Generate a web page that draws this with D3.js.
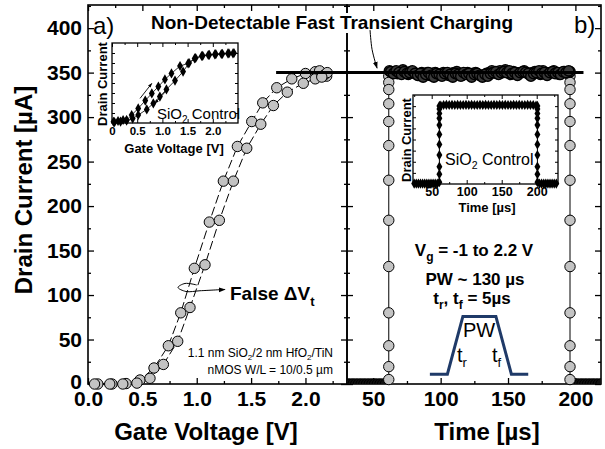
<!DOCTYPE html>
<html><head><meta charset="utf-8">
<script src="https://cdn.jsdelivr.net/npm/d3@7"></script>
<style>
body{margin:0;background:#fff;}
svg{display:block;}
</style></head><body>
<svg id="chart" width="605" height="449"></svg>
<script>
// ---------------- DATA ----------------
// Panel a) : ID-VG double sweep (gate voltage [V], drain current [uA])
const sweepUpV   = [0.09,0.22,0.35,0.478,0.607,0.739,0.853,0.978,1.116,1.245,1.374,1.506,1.607,1.736,1.874,2.00,2.09,2.165];
const sweepUpI   = [0,0,0.5,4.5,18,43,80,130,182,228,267,295,316,333,343,349,351,349];
const sweepDownV = [0.06,0.20,0.32,0.45,0.57,0.693,0.825,0.938,1.076,1.208,1.337,1.46,1.589,1.705,1.833,1.98,2.09,2.195];
const sweepDownI = [0,0,0,1,6.4,22,48,86,134,184,228,265,292,313,328,338,343,346];
const clusterV   = [2.13,2.17,2.20,2.15];
const clusterI   = [352,347,350,345];
const xTicksV    = [0,0.5,1.0,1.5,2.0];
const xMinorV    = [0.25,0.75,1.25,1.75,2.25];
const yTicks     = [0,50,100,150,200,250,300,350,400];
const yMinor     = [25,75,125,175,225,275,325,375,425];

// Panel b) : transient (time [us], drain current [uA])
const edgeI      = [346,339,331,315,295,268,229,184,132,80,43,19.5,5];
const riseT      = 61.5;
const fallT      = 196;
const plateauT   = [62,64,66,68,70,72,74,76,78,80,82,84,86,88,90,92,94,96,98,100,102,104,106,108,110,112,114,116,118,120,122,124,126,128,130,132,134,136,138,140,142,144,146,148,150,152,154,156,158,160,162,164,166,168,170,172,174,176,178,180,182,184,186,188,190,192,194,196];
const plateauI   = [352,350,351,349,350,353,350,348,351,350,
                    349,347,350,348,350,347,349,350,348,347,
                    350,349,347,349,350,351,348,347,349,350,
                    347,349,350,348,347,346,349,350,352,350,
                    349,352,350,353,350,348,351,350,349,350,
                    352,350,348,350,351,350,348,352,350,349,
                    350,352,350,348,350,351,350,351];
const plateau2T  = [63,65,67,69,71,73,75,77,79,81,83,85,87,89,91,93,95,97,99,101,103,105,107,109,111,113,115,117,119,121,123,125,127,129,131,133,135,137,139,141,143,145,147,149,151,153,155,157,159,161,163,165,167,169,171,173,175,177,179,181,183,185,187,189,191,193,195];
const plateau2I  = [351,349,352,350,348,351,349,350,352,349,
                    347,349,345,348,350,347,345,349,348,346,
                    349,350,348,345,349,348,346,350,348,349,
                    345,348,349,347,345,348,346,349,350,351,
                    348,350,351,350,352,349,350,347,350,351,
                    350,349,346,349,350,352,349,350,347,350,
                    351,349,350,348,351,350,352];
const baseLeftT  = [31,33,35,37,39,41,43,45,47,49,51,53,55,57,59];
const baseRightT = [197,199,201,203,205,207,209,211,213,215,217,219];
const xTicksT    = [50,100,150,200];
const xMinorT    = [75,125,175];

// "Non-detectable" level line, drawn across both panels
const chargeLevel = 350;
const chargeLineV = [1.73, 2.382];
const chargeLineT = [30.5, 206];
// schematic gate pulse (time, current-axis units)
const pulseT = [92,105,116.5,141,152.5,165];
const pulseI = [11,11,76,76,11,11];

// Inset a) : SiO2 control ID-VG
const inUpV = [0.03,0.12,0.22,0.29,0.39,0.52,0.66,0.79,0.92,1.05,1.18,1.35,1.51,1.64,1.78,1.91,2.04,2.17,2.30,2.40];
const inUpI = [6,10,15,15,40,73,112,148,182,218,248,285,298,323,335,340,343,345,348,348];
const inDnV = [0.05,0.17,0.29,0.41,0.52,0.69,0.82,0.95,1.08,1.25,1.41,1.53,1.66,1.80,1.93,2.06,2.19,2.32,2.42];
const inDnI = [4,7,12,22,40,68,98,132,168,212,257,300,325,336,341,344,346,348,350];
const inTicksV = [0,0.5,1.0,1.5,2.0];
const inMinorV = [0.25,0.75,1.25,1.75,2.25];

// Inset b) : SiO2 control transient
const inRiseT = 61, inFallT = 201;
const inEdgeI = [8,44,78,130,178,223,265,295,317,337,351];
const inTopT  = [63,67,71,75,79,83,87,91,95,99,103,107,111,115,119,123,127,131,135,139,143,147,151,155,159,163,167,171,175,179,183,187,191,195,199];
const inTopI  = [352,355,356,355,356,355,356,355,355,356,355,356,355,355,356,355,356,355,355,356,355,356,355,356,355,355,356,355,356,355,355,356,355,355,352];
const inBaseLT = [25,28,31,34,37,40,43,46,49,52,55,58];
const inBaseRT = [204,207,210,213,216,219,222,225,228];
const inTicksT = [50,100,150,200];
const inMinorT = [25,75,125,175,225];

// ---------------- DRAWING ----------------
const FONT = "'Liberation Sans', Arial, Helvetica, sans-serif";
const svg = d3.select("#chart").style("font-family", FONT);

const yMain = d3.scaleLinear().domain([0,426]).range([384,5]);
const xV = d3.scaleLinear().domain([0,2.382]).range([88,347]);
const xT = d3.scaleLinear().domain([30.5,219]).range([347,601]);

const defs = svg.append("defs");
defs.append("marker").attr("id","ah").attr("viewBox","0 0 10 10").attr("refX",9).attr("refY",5)
  .attr("markerWidth",7).attr("markerHeight",7).attr("orient","auto-start-reverse")
  .append("path").attr("d","M0,1.5 L10,5 L0,8.5 Z").attr("fill","#000");
defs.append("marker").attr("id","ahs").attr("viewBox","0 0 10 10").attr("refX",9).attr("refY",5)
  .attr("markerWidth",5).attr("markerHeight",5).attr("orient","auto")
  .append("path").attr("d","M0,1.5 L10,5 L0,8.5 Z").attr("fill","#000");
defs.append("clipPath").attr("id","clipR").append("rect")
  .attr("x",347).attr("y",5).attr("width",254).attr("height",379);

function axis(parent, gen, scale, values, size, pos, opts={}) {
  const a = gen(scale).tickValues(values).tickSizeInner(size).tickSizeOuter(0)
    .tickPadding(opts.pad ?? 6).tickFormat(opts.fmt || (() => ""));
  const g = parent.append("g").attr("transform", pos).call(a);
  g.attr("font-family", null).attr("font-size", null);
  g.select(".domain").remove();
  g.selectAll(".tick line").attr("stroke","#000").attr("stroke-width", opts.sw || 1.3);
  g.selectAll(".tick text").attr("font-size", opts.fs || 21).attr("font-weight","bold")
    .attr("fill","#000").style("font-family", FONT);
  return g;
}
function frame(parent, x, y, sw) {
  const [x0,x1] = x.range(), [y0,y1] = y.range();
  parent.append("rect").attr("x",Math.min(x0,x1)).attr("y",Math.min(y0,y1))
    .attr("width",Math.abs(x1-x0)).attr("height",Math.abs(y1-y0))
    .attr("fill","none").attr("stroke","#000").attr("stroke-width",sw||1.6);
}
const fmtV = d => d===0 ? "0.0" : d3.format(".1f")(d);

// ---- panel a axes
const gA = svg.append("g");
axis(gA, d3.axisBottom, xV, xTicksV, -6, "translate(0,384)", {fmt: fmtV, pad: 7});
axis(gA, d3.axisBottom, xV, xMinorV, -3, "translate(0,384)");
axis(gA, d3.axisTop, xV, xTicksV, -6, "translate(0,5)");
axis(gA, d3.axisTop, xV, xMinorV, -3, "translate(0,5)");
axis(gA, d3.axisLeft, yMain, yTicks, -6, "translate(88,0)", {fmt: d3.format("d"), pad: 6})
  .selectAll(".tick text").filter(d=>d===0).attr("dy","0.2em");
axis(gA, d3.axisLeft, yMain, yMinor.filter(d=>d<426), -3, "translate(88,0)");
axis(gA, d3.axisRight, yMain, yTicks, -6, "translate(347,0)");
axis(gA, d3.axisRight, yMain, yMinor.filter(d=>d<426), -3, "translate(347,0)");
frame(gA, xV, yMain);

// ---- panel b axes
const gB = svg.append("g");
axis(gB, d3.axisBottom, xT, xTicksT, -6, "translate(0,384)", {fmt: d3.format("d"), pad: 7});
axis(gB, d3.axisBottom, xT, xMinorT, -3, "translate(0,384)");
axis(gB, d3.axisTop, xT, xTicksT, -6, "translate(0,5)");
axis(gB, d3.axisTop, xT, xMinorT, -3, "translate(0,5)");
axis(gB, d3.axisLeft, yMain, yTicks, -6, "translate(347,0)");
axis(gB, d3.axisLeft, yMain, yMinor.filter(d=>d<426), -3, "translate(347,0)");
axis(gB, d3.axisRight, yMain, yTicks, -6, "translate(601,0)");
axis(gB, d3.axisRight, yMain, yMinor.filter(d=>d<426), -3, "translate(601,0)");
frame(gB, xT, yMain);

// ---- panel a data
const upPts = sweepUpV.map((v,i)=>[v,sweepUpI[i]]);
const dnPts = sweepDownV.map((v,i)=>[v,sweepDownI[i]]);
const lineV = d3.line().x(d=>xV(d[0])).y(d=>yMain(d[1]));
[upPts, dnPts].forEach(p => svg.append("path").attr("d", lineV(p)).attr("fill","none")
  .attr("stroke","#000").attr("stroke-width",1).attr("stroke-dasharray","9,3.5"));
const clusterPts = clusterV.map((v,i)=>[v,clusterI[i]]);
svg.append("g").selectAll("circle").data(upPts.concat(dnPts, clusterPts)).join("circle")
  .attr("cx",d=>xV(d[0])).attr("cy",d=>yMain(d[1])).attr("r",5.2)
  .attr("fill","#c3c3c3").attr("stroke","#000").attr("stroke-width",1);

// ---- panel b data
const lineT = d3.line().x(d=>xT(d[0])).y(d=>yMain(d[1]));
const risePts = edgeI.map(v=>[riseT,v]);
const fallPts = edgeI.map(v=>[fallT,v]);
[risePts, fallPts].forEach(p => svg.append("path").attr("d", lineT(p)).attr("fill","none")
  .attr("stroke","#000").attr("stroke-width",1));
const gBase = svg.append("g").attr("clip-path","url(#clipR)");
gBase.selectAll("circle").data(baseLeftT.concat(baseRightT)).join("circle")
  .attr("cx",d=>xT(d)).attr("cy",yMain(0)).attr("r",5.2)
  .attr("fill","#111").attr("stroke","#000");
svg.append("g").selectAll("circle").data(risePts.concat(fallPts)).join("circle")
  .attr("cx",d=>xT(d[0])).attr("cy",d=>yMain(d[1])).attr("r",5.2)
  .attr("fill","#c3c3c3").attr("stroke","#000").attr("stroke-width",1);
const platPts = plateauT.map((t,i)=>[t,plateauI[i]]).concat(plateau2T.map((t,i)=>[t,plateau2I[i]]));
svg.append("g").selectAll("circle").data(platPts).join("circle")
  .attr("cx",d=>xT(d[0])).attr("cy",d=>yMain(d[1])).attr("r",5.2)
  .attr("fill","#3a3a3a").attr("stroke","#000").attr("stroke-width",1.4);

// charge level line
svg.append("line").attr("x1",xV(chargeLineV[0])).attr("x2",xV(chargeLineV[1]))
  .attr("y1",yMain(chargeLevel)).attr("y2",yMain(chargeLevel)).attr("stroke","#000").attr("stroke-width",3);
svg.append("line").attr("x1",xT(chargeLineT[0])).attr("x2",xT(chargeLineT[1]))
  .attr("y1",yMain(chargeLevel)).attr("y2",yMain(chargeLevel)).attr("stroke","#000").attr("stroke-width",3);

// pulse schematic
svg.append("path").attr("d", lineT(pulseT.map((t,i)=>[t,pulseI[i]]))).attr("fill","none")
  .attr("stroke","#1f3a68").attr("stroke-width",3).attr("stroke-linejoin","miter");

// ---- inset a
const xIn = d3.scaleLinear().domain([0,2.5]).range([112,238]);
const yIn = d3.scaleLinear().domain([0,400]).range([123,43]);
const gI = svg.append("g");
gI.append("rect").attr("x",112).attr("y",43).attr("width",126).attr("height",80).attr("fill","#fff");
axis(gI, d3.axisBottom, xIn, inTicksV, -4, "translate(0,123)", {fmt: d=>d===0?"0":d3.format(".1f")(d), pad: 4, fs: 11.5, sw:1});
axis(gI, d3.axisBottom, xIn, inMinorV, -2, "translate(0,123)", {sw:1});
axis(gI, d3.axisTop, xIn, inTicksV, -4, "translate(0,43)", {sw:1});
axis(gI, d3.axisTop, xIn, inMinorV, -2, "translate(0,43)", {sw:1});
axis(gI, d3.axisLeft, yIn, [50,100,150,200,250,300,350], -3, "translate(112,0)", {sw:1});
axis(gI, d3.axisRight, yIn, [50,100,150,200,250,300,350], -3, "translate(238,0)", {sw:1});
frame(gI, xIn, yIn, 1.3);
const lineIn = d3.line().x(d=>xIn(d[0])).y(d=>yIn(d[1]));
const iUp = inUpV.map((v,i)=>[v,inUpI[i]]), iDn = inDnV.map((v,i)=>[v,inDnI[i]]);
[iUp,iDn].forEach(p=>gI.append("path").attr("d",lineIn(p)).attr("fill","none").attr("stroke","#000").attr("stroke-width",0.8));
const diamond = d3.symbol(d3.symbolDiamond, 30);
gI.selectAll("path.mk").data(iUp.concat(iDn)).join("path").attr("class","mk")
  .attr("d",diamond).attr("transform",d=>`translate(${xIn(d[0])},${yIn(d[1])})`).attr("fill","#000");
// sweep direction arrows
gI.append("path").attr("d", lineIn([[0.556,123],[0.79,198]])).attr("stroke","#000").attr("stroke-width",0.9).attr("marker-end","url(#ahs)");
gI.append("path").attr("d", lineIn([[1.117,173],[0.85,98]])).attr("stroke","#000").attr("stroke-width",0.9).attr("marker-end","url(#ahs)");

// ---- inset b
const xIn2 = d3.scaleLinear().domain([23.3,230.4]).range([413,558]);
const yIn2 = d3.scaleLinear().domain([0,400]).range([184,95]);
const gI2 = svg.append("g");
gI2.append("rect").attr("x",413).attr("y",95).attr("width",145).attr("height",89).attr("fill","#fff");
axis(gI2, d3.axisBottom, xIn2, inTicksT, -4, "translate(0,184)", {fmt: d3.format("d"), pad: 3, fs: 12.5, sw:1});
axis(gI2, d3.axisBottom, xIn2, inMinorT, -2, "translate(0,184)", {sw:1});
axis(gI2, d3.axisTop, xIn2, inTicksT, -4, "translate(0,95)", {sw:1});
axis(gI2, d3.axisTop, xIn2, inMinorT, -2, "translate(0,95)", {sw:1});
axis(gI2, d3.axisLeft, yIn2, [50,100,150,200,250,300,350], -3, "translate(413,0)", {sw:1});
axis(gI2, d3.axisRight, yIn2, [50,100,150,200,250,300,350], -3, "translate(558,0)", {sw:1});
const lineIn2 = d3.line().x(d=>xIn2(d[0])).y(d=>yIn2(d[1]));
const pulseIn = inBaseLT.map(t=>[t,2]).concat(inEdgeI.map(v=>[inRiseT,v]), inTopT.map((t,i)=>[t,inTopI[i]]),
  inEdgeI.slice().reverse().map(v=>[inFallT,v]), inBaseRT.map(t=>[t,2]));
gI2.append("path").attr("d",lineIn2(pulseIn)).attr("fill","none").attr("stroke","#000").attr("stroke-width",1);
gI2.selectAll("path.mk").data(pulseIn).join("path").attr("class","mk")
  .attr("d",diamond).attr("transform",d=>`translate(${xIn2(d[0])},${yIn2(d[1])})`).attr("fill","#000");
frame(gI2, xIn2, yIn2, 1.3);

// ---------------- TEXT ----------------
function txt(x,y,s,size,weight,anchor){
  return svg.append("text").attr("x",x).attr("y",y).attr("font-size",size)
    .attr("font-weight",weight||"normal").attr("text-anchor",anchor||"start").attr("fill","#000").text(s);
}
// axis titles
txt(206,440,"Gate Voltage [V]",24,"bold","middle");
txt(487,440,"Time [µs]",24,"bold","middle");
svg.append("text").attr("transform","translate(32,190) rotate(-90)").attr("text-anchor","middle")
  .attr("font-size",24).attr("font-weight","bold").text("Drain Current [µA]");
// panel letters
txt(93,34,"a)",24,"normal");
txt(574,33,"b)",24,"normal");
// title annotation (white backing as in the original)
svg.append("rect").attr("x",146).attr("y",13).attr("width",372).attr("height",20).attr("fill","#fff");
txt(332,29,"Non-Detectable Fast Transient Charging",19,"bold","middle");
svg.append("path").attr("d", d3.line().curve(d3.curveCatmullRom).x(d=>xT(d[0])).y(d=>yMain(d[1]))([[47.6,398],[49.1,376],[52.8,355]]))
  .attr("fill","none").attr("stroke","#000").attr("stroke-width",1).attr("marker-end","url(#ah)");
// False dVt
svg.append("path").attr("d", d3.line().curve(d3.curveCatmullRom).x(d=>xV(d[0])).y(d=>yMain(d[1]))([[1.0,111.3],[0.892,113],[0.828,108.5],[0.901,104],[1.03,104.8],[1.26,106.3]]))
  .attr("fill","none").attr("stroke","#000").attr("stroke-width",1).attr("marker-end","url(#ah)");
const fd = txt(230,300,"False ΔV",19,"bold");
fd.append("tspan").attr("font-size",13).attr("dy",6).text("t");
// device text
const d1 = txt(333,357,"",12,"normal","end");
d1.append("tspan").text("1.1 nm SiO");
d1.append("tspan").attr("font-size",8).attr("dy",3).text("2");
d1.append("tspan").attr("dy",-3).text("/2 nm HfO");
d1.append("tspan").attr("font-size",8).attr("dy",3).text("2");
d1.append("tspan").attr("dy",-3).text("/TiN");
txt(333,374,"nMOS W/L = 10/0.5 µm",12,"normal","end");
// pulse conditions
const vg = txt(474,256,"",17,"bold","middle");
vg.append("tspan").text("V");
vg.append("tspan").attr("font-size",12).attr("dy",5).text("g");
vg.append("tspan").attr("dy",-5).text(" = -1 to 2.2 V");
txt(475,285,"PW ~ 130 µs",17,"bold","middle");
const tr = txt(472,304,"",17,"bold","middle");
tr.append("tspan").text("t");
tr.append("tspan").attr("font-size",12).attr("dy",5).text("r");
tr.append("tspan").attr("dy",-5).text(", t");
tr.append("tspan").attr("font-size",12).attr("dy",5).text("f");
tr.append("tspan").attr("dy",-5).text(" = 5µs");
txt(479,337,"PW",20,"normal","middle");
const t1 = txt(457,362,"t",20,"normal");
t1.append("tspan").attr("font-size",13).attr("dy",5).text("r");
const t2 = txt(492,362,"t",20,"normal");
t2.append("tspan").attr("font-size",13).attr("dy",5).text("f");
// inset a texts
svg.append("text").attr("transform","translate(107,84) rotate(-90)").attr("text-anchor","middle")
  .attr("font-size",13).attr("font-weight","bold").text("Drain Current");
txt(174,153,"Gate Voltage [V]",13,"bold","middle");
const s1 = txt(157,119,"SiO",15,"normal");
s1.append("tspan").attr("font-size",10).attr("dy",4).text("2");
s1.append("tspan").attr("dy",-4).text(" Control");
// inset b texts
svg.append("text").attr("transform","translate(411,140) rotate(-90)").attr("text-anchor","middle")
  .attr("font-size",13).attr("font-weight","bold").text("Drain Current");
txt(487,212,"Time [µs]",13,"bold","middle");
const s2 = txt(445,165,"SiO",16,"normal");
s2.append("tspan").attr("font-size",10.5).attr("dy",4).text("2");
s2.append("tspan").attr("dy",-4).text(" Control");
</script>
</body></html>
